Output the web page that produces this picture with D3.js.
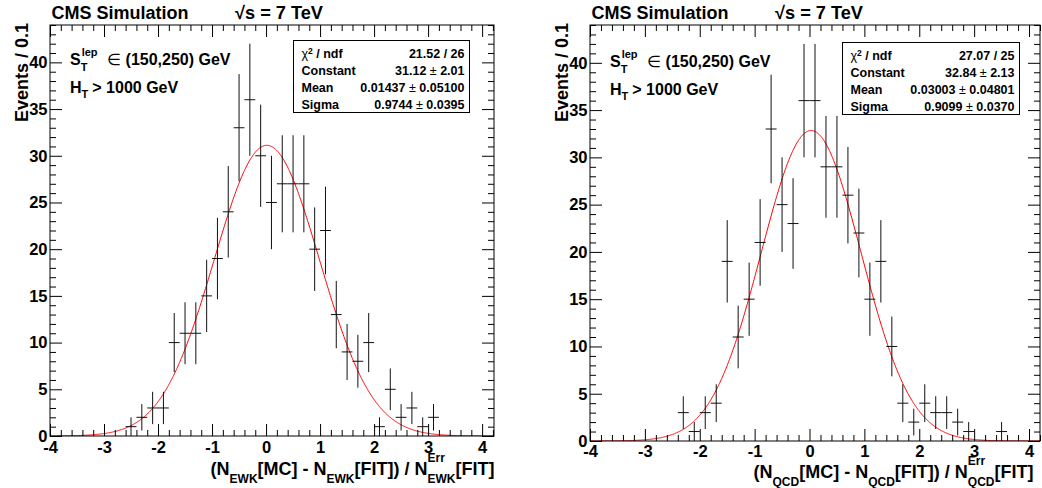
<!DOCTYPE html>
<html>
<head>
<meta charset="utf-8">
<script src="https://cdn.jsdelivr.net/npm/d3@7"></script>
<style>
  body { margin: 0; background: #fff; }
  svg { display: block; font-family: "Liberation Sans", Arial, Helvetica, sans-serif; }
</style>
</head>
<body>
<svg id="chart" width="1042" height="488"></svg>
<script>
// bin centres and entries per 0.2-wide bin
const ewkCenters = [-2.5, -2.3, -2.1, -1.9, -1.7, -1.5, -1.3, -1.1, -0.9, -0.7, -0.5, -0.3, -0.1, 0.1, 0.3,
    0.5, 0.7, 0.9, 1.1, 1.3, 1.5, 1.7, 1.9, 2.1, 2.3, 2.5, 2.7, 2.9, 3.1];
const ewkCounts = [1, 2, 3, 3, 10, 11, 11, 15, 19, 24, 33, 36, 30, 25, 27,
    27, 27, 20, 22, 13, 9, 8, 10, 1, 5, 2, 3, 1, 2];

const qcdCenters = [-2.3, -2.1, -1.9, -1.7, -1.5, -1.3, -1.1, -0.9, -0.7, -0.5, -0.3, -0.1, 0.1, 0.3,
    0.5, 0.7, 0.9, 1.1, 1.3, 1.5, 1.7, 1.9, 2.1, 2.3, 2.5, 2.7, 2.9, 3.5];
const qcdCounts = [3, 1, 3, 4, 19, 11, 15, 21, 33, 25, 23, 36, 36, 29,
    29, 26, 22, 15, 19, 10, 4, 2, 4, 3, 3, 2, 1, 1];

// gaussian fit: constant, mean, sigma
const ewkFit = [31.12, 0.01437, 0.9744];
const qcdFit = [32.84, 0.03003, 0.9099];

const statLabels = ["χ² / ndf", "Constant", "Mean", "Sigma"];
const ewkStats = ["21.52 / 26", ["31.12", "2.01"], ["0.01437", "0.05100"], ["0.9744", "0.0395"]];
const qcdStats = ["27.07 / 25", ["32.84", "2.13"], ["0.03003", "0.04801"], ["0.9099", "0.0370"]];

const xTicks = [-4, -3, -2, -1, 0, 1, 2, 3, 4];
const yTicks = [0, 5, 10, 15, 20, 25, 30, 35, 40];

const binWidth = 0.2;
const svg = d3.select("#chart");
svg.append("rect").attr("width", 1042).attr("height", 488).attr("fill", "#fff");

// writes a sequence of text pieces, with sub/superscripts, and returns its width
function richText(parent, x, y, parts, size, anchor) {
    const g = parent.append("g");
    let cx = 0;
    const piece = (t, px, py, fs, weight) => {
        const el = g.append("text").attr("x", px).attr("y", py)
            .attr("font-size", fs).attr("font-weight", weight || "bold").text(t);
        return el.node().getComputedTextLength();
    };
    parts.forEach(p => {
        if (typeof p === "string") {
            cx += piece(p, cx, 0, size);
        } else if (p.plain) {
            cx += piece(p.plain, cx, 0, size, "normal") + (p.gap || 0);
        } else {
            let w = 0;
            if (p.sup) w = Math.max(w, piece(p.sup, cx + (p.supDx || 0), p.supDy, p.size));
            if (p.sub) w = Math.max(w, piece(p.sub, cx, p.subDy, p.size));
            cx += w + (p.gap || 0);
        }
    });
    const x0 = anchor === "end" ? x - cx : x;
    g.attr("transform", `translate(${x0},${y})`);
    return cx;
}

function drawPanel(p) {
    const x = d3.scaleLinear().domain([-4, p.xMax]).range([p.x0, p.x1]);
    const y = d3.scaleLinear().domain([0, 44]).range([p.y1, p.y0]);
    const g = svg.append("g");

    g.append("clipPath").attr("id", "clip-" + p.id)
        .append("rect")
        .attr("x", p.x0).attr("y", p.y0)
        .attr("width", p.x1 - p.x0).attr("height", p.y1 - p.y0);

    // fit curve
    const [c, mu, sg] = p.fit;
    const curve = d3.range(-4, p.xMax + 0.005, 0.01).map(v => [v, c * Math.exp(-0.5 * ((v - mu) / sg) ** 2)]);
    g.append("path")
        .attr("clip-path", `url(#clip-${p.id})`)
        .attr("d", d3.line().x(d => x(d[0])).y(d => y(d[1]))(curve))
        .attr("fill", "none")
        .attr("stroke", "#ff0000")
        .attr("stroke-width", 1);

    // data points with sqrt(N) errors
    const pts = p.centers.map((cc, i) => ({ c: cc, n: p.counts[i] }));
    const marks = g.append("g").attr("clip-path", `url(#clip-${p.id})`)
        .attr("stroke", "#111").attr("stroke-width", 1);
    marks.selectAll("line.v").data(pts).join("line")
        .attr("class", "v")
        .attr("x1", d => x(d.c)).attr("x2", d => x(d.c))
        .attr("y1", d => y(d.n - Math.sqrt(d.n))).attr("y2", d => y(d.n + Math.sqrt(d.n)));
    marks.selectAll("line.h").data(pts).join("line")
        .attr("class", "h")
        .attr("x1", d => x(d.c - binWidth / 2)).attr("x2", d => x(d.c + binWidth / 2))
        .attr("y1", d => y(d.n)).attr("y2", d => y(d.n));

    // axes, ticks on all four sides
    const xMinor = d3.range(-4, p.xMax + 1e-6, 0.2).filter(v => Math.abs(v - Math.round(v)) > 1e-6);
    const yMinor = d3.range(0, 44.01, 1).filter(v => v % 5 !== 0);
    const fmt = d => String(d);
    const noDomain = sel => sel.select(".domain").remove();

    const bottom = g.append("g").attr("transform", `translate(0,${p.y1})`);
    bottom.append("g").call(d3.axisBottom(x).tickValues(xTicks).tickSizeInner(-12).tickSizeOuter(0)
        .tickPadding(p.xPad).tickFormat(fmt)).call(noDomain);
    bottom.append("g").call(d3.axisBottom(x).tickValues(xMinor).tickSizeInner(-6).tickSizeOuter(0)
        .tickFormat("")).call(noDomain);

    const top = g.append("g").attr("transform", `translate(0,${p.y0})`);
    top.append("g").call(d3.axisTop(x).tickValues(xTicks).tickSizeInner(-12).tickSizeOuter(0).tickFormat("")).call(noDomain);
    top.append("g").call(d3.axisTop(x).tickValues(xMinor).tickSizeInner(-6).tickSizeOuter(0).tickFormat("")).call(noDomain);

    const left = g.append("g").attr("transform", `translate(${p.x0},0)`);
    left.append("g").call(d3.axisLeft(y).tickValues(yTicks).tickSizeInner(-12).tickSizeOuter(0)
        .tickPadding(2.5).tickFormat(fmt)).call(noDomain);
    left.append("g").call(d3.axisLeft(y).tickValues(yMinor).tickSizeInner(-6).tickSizeOuter(0).tickFormat("")).call(noDomain);

    const right = g.append("g").attr("transform", `translate(${p.x1},0)`);
    right.append("g").call(d3.axisRight(y).tickValues(yTicks).tickSizeInner(-12).tickSizeOuter(0).tickFormat("")).call(noDomain);
    right.append("g").call(d3.axisRight(y).tickValues(yMinor).tickSizeInner(-6).tickSizeOuter(0).tickFormat("")).call(noDomain);

    g.selectAll(".tick line").attr("stroke", "#000");
    g.selectAll(".tick text")
        .attr("fill", "#000")
        .attr("font-size", 16.5)
        .attr("font-weight", "bold")
        .attr("font-family", "Liberation Sans, Arial, sans-serif");

    g.append("rect")
        .attr("x", p.x0).attr("y", p.y0)
        .attr("width", p.x1 - p.x0).attr("height", p.y1 - p.y0)
        .attr("fill", "none").attr("stroke", "#000").attr("stroke-width", 1);

    // header
    g.append("text").attr("x", p.x0 + 1.5).attr("y", 18.5)
        .attr("font-size", 18).attr("font-weight", "bold").text("CMS Simulation");
    g.append("text").attr("x", p.sqrtX).attr("y", 18.5)
        .attr("font-size", 18).attr("font-weight", "bold")
        .attr("textLength", 88).attr("lengthAdjust", "spacingAndGlyphs")
        .text("√s = 7 TeV");

    // y title
    g.append("text")
        .attr("transform", `translate(${p.yTitleX},23) rotate(-90)`)
        .attr("text-anchor", "end")
        .attr("font-size", 18).attr("font-weight", "bold")
        .text("Events / 0.1");

    // x title
    const s = p.tag;
    richText(g, p.xTitleRight, p.xTitleY, [
        "(N", { sub: s, subDy: 8.5, size: 12 }, "[MC] - N", { sub: s, subDy: 8.5, size: 12 },
        "[FIT]) / N", { sup: "Err", supDy: -13, sub: s, subDy: 8.5, size: 12 }, "[FIT]"
    ], 18, "end");

    // selection labels
    richText(g, p.x0 + 20, p.labelY, [
        "S", { sup: "lep", supDy: -9, supDx: 1, sub: "T", subDy: 6, size: 11, gap: 10 },
        { plain: "∈", gap: 5 }, "(150,250) GeV"
    ], 16, "start");
    richText(g, p.x0 + 20, p.labelY + 28, [
        "H", { sub: "T", subDy: 5, size: 11, gap: 4 }, "> 1000 GeV"
    ], 16, "start");

    // fit statistics box
    const b = p.box;
    g.append("rect")
        .attr("x", b[0]).attr("y", b[1]).attr("width", b[2] - b[0]).attr("height", b[3] - b[1])
        .attr("fill", "#fff").attr("stroke", "#000").attr("stroke-width", 1);
    statLabels.forEach((lab, i) => {
        const yy = b[1] + 17 + i * 17.2;
        const lt = g.append("text").attr("x", b[0] + 8).attr("y", yy)
            .attr("font-size", 12.5).attr("font-weight", "bold");
        if (i === 0) {
            lt.append("tspan").attr("font-weight", "normal").text("χ");
            lt.append("tspan").attr("font-size", 8.5).attr("dy", -4).text("2");
            lt.append("tspan").attr("dy", 4).text(" / ndf");
        } else {
            lt.text(lab);
        }
        const v = p.stats[i];
        const vt = g.append("text").attr("x", b[2] - 5).attr("y", yy)
            .attr("text-anchor", "end").attr("font-size", 12.5).attr("font-weight", "bold");
        if (typeof v === "string") {
            vt.text(v);
        } else {
            vt.append("tspan").text(v[0]);
            vt.append("tspan").attr("font-weight", "normal").text(" ± ");
            vt.append("tspan").text(v[1]);
        }
    });
}

drawPanel({
    id: "ewk", tag: "EWK", centers: ewkCenters, counts: ewkCounts, fit: ewkFit, stats: ewkStats,
    x0: 50, x1: 494, y0: 25, y1: 436, xMax: 4.22, xPad: 5.3,
    sqrtX: 235, yTitleX: 28, xTitleRight: 494.5, xTitleY: 474.5, labelY: 65,
    box: [293.5, 40.5, 469.5, 112.5]
});
drawPanel({
    id: "qcd", tag: "QCD", centers: qcdCenters, counts: qcdCounts, fit: qcdFit, stats: qcdStats,
    x0: 590, x1: 1040, y0: 25, y1: 441, xMax: 4.2, xPad: 4.3,
    sqrtX: 775, yTitleX: 568, xTitleRight: 1033.5, xTitleY: 477.5, labelY: 66.5,
    box: [842.5, 42.5, 1019.5, 114.5]
});
</script>
</body>
</html>
